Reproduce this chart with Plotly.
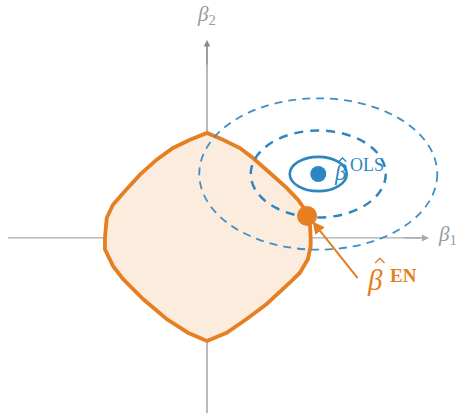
import plotly.graph_objects as go

# ---- data (units: constraint radius = 1) ----
ball_x = [-0.981, -0.964, -0.904, -0.788, -0.644, -0.484, -0.327, -0.163, 0.0, 0.154, 0.317, 0.442,
          0.606, 0.766, 0.875, 0.942, 0.990, 0.997, 0.997, 0.971, 0.894, 0.814, 0.574, 0.382,
          0.189, 0.0, -0.183, -0.388, -0.615, -0.808, -0.904, -0.981]
ball_y = [0.0, 0.192, 0.320, 0.452, 0.609, 0.753, 0.865, 0.945, 1.010, 0.945, 0.865, 0.769,
          0.625, 0.481, 0.368, 0.272, 0.128, 0.0, -0.077, -0.202, -0.334, -0.413, -0.635, -0.779,
          -0.911, -0.990, -0.911, -0.779, -0.587, -0.394, -0.269, -0.109]

ols_center = (1.07, 0.615)
ellipse_a = [1.144, 0.649, 0.274]   # semi-axis along beta1
ellipse_b = [0.728, 0.418, 0.165]   # semi-axis along beta2
ellipse_dash = ["8px,6px", "9px,7px", "solid"]
ellipse_width = [1.8, 2.5, 2.6]
ellipse_color = ["#3f8fc6", "#2e86c1", "#2e86c1"]

en_point = (0.962, 0.212)
en_arrow_tail = (1.46, -0.40)
en_arrow_tip = (1.015, 0.158)

x_axis_ext = (-1.913, 2.135)
y_axis_ext = (-1.70, 1.904)

ORANGE = "#e67e22"
FILL = "#fbecde"
BLUE = "#2e86c1"
GREY = "#9a9a9a"
FONT = "Liberation Serif"

fig = go.Figure()

shapes = []
# axes (below everything)
shapes.append(dict(type="line", xref="x", yref="y", x0=x_axis_ext[0], x1=x_axis_ext[1] - 0.05,
                   y0=0, y1=0, line=dict(color="#a7abae", width=1.3), layer="below"))
shapes.append(dict(type="line", xref="x", yref="y", x0=0, x1=0, y0=y_axis_ext[0],
                   y1=y_axis_ext[1] - 0.05, line=dict(color="#8a8a8a", width=1.2), layer="below"))
# elastic-net ball
path = "M " + " L ".join(f"{x},{y}" for x, y in zip(ball_x, ball_y)) + " Z"
shapes.append(dict(type="path", xref="x", yref="y", path=path,
                   fillcolor=FILL, line=dict(color=ORANGE, width=3.8), layer="below"))
# OLS contours
for a, b, d, w, c in zip(ellipse_a, ellipse_b, ellipse_dash, ellipse_width, ellipse_color):
    shapes.append(dict(type="circle", xref="x", yref="y",
                       x0=ols_center[0] - a, x1=ols_center[0] + a,
                       y0=ols_center[1] - b, y1=ols_center[1] + b,
                       line=dict(color=c, width=w, dash=d), layer="below"))


def hat(cx, y_base, half_w, h, color):
    return dict(type="path", xref="x", yref="y",
                path=f"M {cx - half_w},{y_base} L {cx},{y_base + h} L {cx + half_w},{y_base}",
                line=dict(color=color, width=1.3), layer="above")


# hats over the beta labels
shapes.append(hat(1.662, -0.240, 0.045, 0.045, ORANGE))
shapes.append(hat(1.303, 0.733, 0.036, 0.036, BLUE))

# points
fig.add_trace(go.Scatter(x=[ols_center[0]], y=[ols_center[1]], mode="markers",
                         marker=dict(color=BLUE, size=16, line=dict(width=0)),
                         hoverinfo="skip", showlegend=False))
fig.add_trace(go.Scatter(x=[en_point[0]], y=[en_point[1]], mode="markers",
                         marker=dict(color=ORANGE, size=20, line=dict(width=0)),
                         hoverinfo="skip", showlegend=False))

annotations = [
    # axis arrowheads
    dict(x=x_axis_ext[1], y=0, ax=x_axis_ext[1] - 0.25, ay=0, xref="x", yref="y",
         axref="x", ayref="y", showarrow=True, arrowhead=2, arrowsize=1.1, arrowwidth=1.3,
         arrowcolor="#a7abae", text=""),
    dict(x=0, y=y_axis_ext[1], ax=0, ay=y_axis_ext[1] - 0.25, xref="x", yref="y",
         axref="x", ayref="y", showarrow=True, arrowhead=2, arrowsize=1.1, arrowwidth=1.2,
         arrowcolor="#8a8a8a", text=""),
    # axis labels
    dict(x=0, y=2.14, xref="x", yref="y", showarrow=False,
         text="<i>β</i><sub>2</sub>", font=dict(family=FONT, size=21, color=GREY)),
    dict(x=2.20, y=0.03, xref="x", yref="y", showarrow=False, xanchor="left",
         text="<i>β</i><sub>1</sub>", font=dict(family=FONT, size=21, color=GREY)),
    # EN arrow
    dict(x=en_arrow_tip[0], y=en_arrow_tip[1], ax=en_arrow_tail[0], ay=en_arrow_tail[1],
         xref="x", yref="y", axref="x", ayref="y", showarrow=True, arrowhead=2,
         arrowsize=1.2, arrowwidth=2, arrowcolor=ORANGE, text=""),
    # EN label
    dict(x=1.52, y=-0.40, xref="x", yref="y", showarrow=False, xanchor="left",
         text="<i>β</i>", font=dict(family=FONT, size=29, color=ORANGE)),
    dict(x=1.885, y=-0.365, xref="x", yref="y", showarrow=False,
         text="<b>EN</b>", font=dict(family=FONT, size=19, color=ORANGE)),
    # OLS label
    dict(x=1.279, y=0.625, xref="x", yref="y", showarrow=False,
         text="<i>β</i>", font=dict(family=FONT, size=23, color=BLUE)),
    dict(x=1.535, y=0.702, xref="x", yref="y", showarrow=False,
         text="OLS", font=dict(family=FONT, size=18, color=BLUE)),
]

fig.update_layout(
    width=463, height=413, margin=dict(l=0, r=0, t=0, b=0),
    paper_bgcolor="white", plot_bgcolor="white",
    xaxis=dict(range=[-1.990, 2.4615], visible=False, fixedrange=True),
    yaxis=dict(range=[-1.683, 2.288], visible=False, fixedrange=True),
    shapes=shapes, annotations=annotations, showlegend=False,
)

fig.write_html("out.html")
